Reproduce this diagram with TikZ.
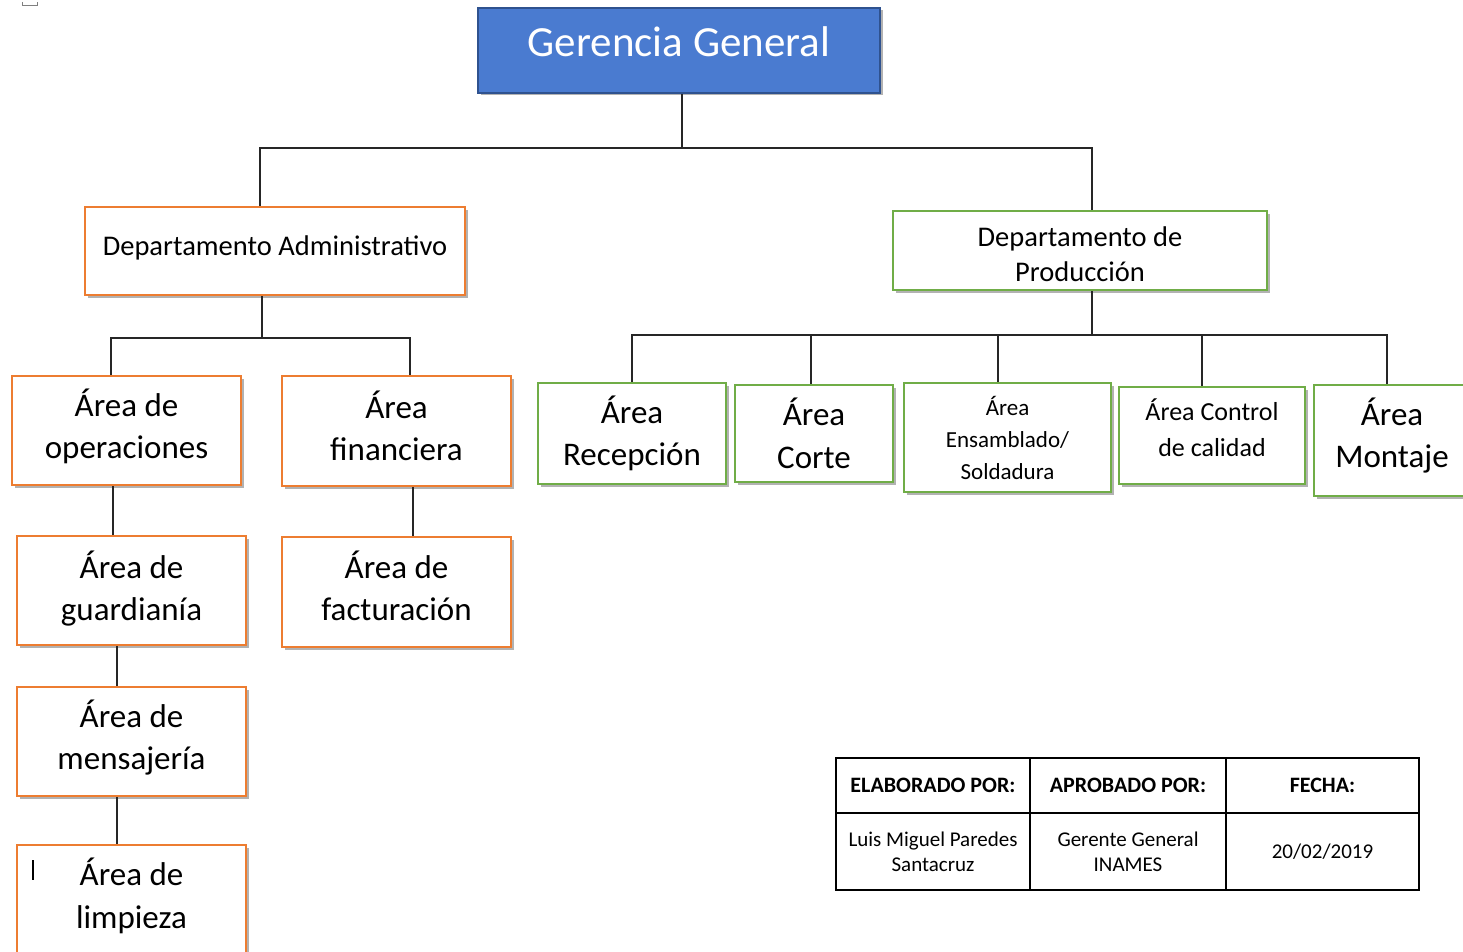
\documentclass[tikz,border=0pt]{standalone}
\usepackage{fontspec}
\setmainfont{Carlito}
\usetikzlibrary{shadows}
\definecolor{gblue}{HTML}{4A7BD0}
\definecolor{gblueb}{HTML}{2F528F}
\definecolor{org}{HTML}{ED7D31}
\definecolor{grn}{HTML}{70AD47}
\definecolor{lnk}{HTML}{262626}
\begin{document}
\begin{tikzpicture}[x=1pt,y=-1pt,
  boxbase/.style={draw, line width=2pt, fill=white, inner sep=0pt,
    drop shadow={shadow xshift=2.5pt, shadow yshift=-2.5pt, fill=black!50, opacity=0.6}},
  obox/.style={boxbase, draw=org},
  gbox/.style={boxbase, draw=grn},
  txt/.style={align=center, inner sep=0pt},
  bigtxt/.style={txt, font=\fontsize{33}{42.5}\selectfont},
  conn/.style={draw=lnk, line width=1.4pt},
  hdr/.style={font=\bfseries\fontsize{22}{26}\selectfont},
  cell/.style={font=\fontsize{21}{25}\selectfont, align=center},
]
\fill[white] (0,0) rectangle (1463,952);
\useasboundingbox (0,0) rectangle (1463,952);

% small mark top-left
\draw[gray, line width=1pt] (22,2) -- (22,6) -- (37,6) -- (37,2);

% top
\node[boxbase, draw=gblueb, fill=gblue, minimum width=402pt, minimum height=85pt] (gg) at (679,50.5) {};
\node[txt, text=white, font=\fontsize{43}{50}\selectfont] (ggt) at ([yshift=9pt]gg.center) {Gerencia General};

% departments
\node[obox, minimum width=380pt, minimum height=88pt] (da) at (275,251) {};
\node[txt, font=\fontsize{28.5}{35}\selectfont] (dat) at ([yshift=3pt]da.center) {Departamento Administrativo};
\node[gbox, minimum width=374pt, minimum height=79pt] (dp) at (1080,250.5) {};
\node[txt, font=\fontsize{28.5}{35}\selectfont] (dpt) at ([yshift=-4pt]dp.center) {Departamento de\\Producción};

% admin areas
\node[obox, minimum width=229pt, minimum height=109pt] (aop) at (126.5,430.5) {};
\node[bigtxt] (aopt) at ([yshift=4pt]aop.center) {Área de\\operaciones};
\node[obox, minimum width=229pt, minimum height=110pt] (afi) at (396.5,431) {};
\node[bigtxt] (afit) at ([yshift=5pt]afi.center) {Área\\financiera};
\node[obox, minimum width=229pt, minimum height=109pt] (agu) at (131.5,590.5) {};
\node[bigtxt] (agut) at ([yshift=2pt]agu.center) {Área de\\guardianía};
\node[obox, minimum width=229pt, minimum height=110pt] (afa) at (396.5,592) {};
\node[bigtxt] (afat) at ([yshift=6pt]afa.center) {Área de\\facturación};
\node[obox, minimum width=229pt, minimum height=109pt] (ame) at (131.5,741.5) {};
\node[bigtxt] (amet) at ([yshift=4pt]ame.center) {Área de\\mensajería};
\node[obox, minimum width=229pt, minimum height=110pt] (ali) at (131.5,900) {};
\node[bigtxt] (alit) at ([yshift=4pt]ali.center) {Área de\\limpieza};
\draw[line width=1.3pt] (33,860) -- (33,880);

% production areas
\node[gbox, minimum width=188pt, minimum height=101pt] (are) at (632,433.5) {};
\node[bigtxt] (aret) at ([yshift=0pt]are.center) {Área\\Recepción};
\node[gbox, minimum width=158pt, minimum height=97pt] (aco) at (814,433.5) {};
\node[bigtxt] (acot) at ([yshift=0pt]aco.center) {Área\\Corte};
\node[gbox, minimum width=207pt, minimum height=109pt] (aen) at (1007.5,437.5) {};
\node[txt, font=\fontsize{23}{32}\selectfont] (aent) at ([yshift=0pt]aen.center) {Área\\Ensamblado/\\Soldadura};
\node[gbox, minimum width=186pt, minimum height=97pt] (acc) at (1212,435.5) {};
\node[txt, font=\fontsize{26}{36}\selectfont] (acct) at ([yshift=8pt]acc.center) {Área Control\\de calidad};
\node[gbox, minimum width=156pt, minimum height=111pt] (amo) at (1392,440.5) {};
\node[bigtxt] (amot) at ([yshift=5pt]amo.center) {Área\\Montaje};

% connectors: top level
\coordinate (b1) at (682,148);
\draw[conn] ([xshift=3pt]gg.south) -- (b1);
\draw[conn] (b1) -| ([xshift=-15pt]da.north);
\draw[conn] (b1) -| ([xshift=12pt]dp.north);

% admin branch
\coordinate (b2) at (262,338);
\draw[conn] ([xshift=-13pt]da.south) -- (b2);
\draw[conn] (b2) -| ([xshift=-15.5pt]aop.north);
\draw[conn] (b2) -| ([xshift=13.5pt]afi.north);
\draw[conn] ([xshift=-13.5pt]aop.south) -- ([xshift=-13.5pt]aop.south |- agu.north);
\draw[conn] ([xshift=16.5pt]afi.south) -- ([xshift=16.5pt]afi.south |- afa.north);
\draw[conn] ([xshift=-14.5pt]agu.south) -- ([xshift=-14.5pt]agu.south |- ame.north);
\draw[conn] ([xshift=-14.5pt]ame.south) -- ([xshift=-14.5pt]ame.south |- ali.north);

% production branch
\coordinate (b3) at (1092,335);
\draw[conn] ([xshift=12pt]dp.south) -- (b3);
\draw[conn] (b3) -| (are.north);
\draw[conn] (b3) -| ([xshift=-3pt]aco.north);
\draw[conn] (b3) -| ([xshift=-9.5pt]aen.north);
\draw[conn] (b3) -| ([xshift=-10pt]acc.north);
\draw[conn] (b3) -| ([xshift=-5pt]amo.north);

% table
\draw[line width=1.6pt] (836,758) rectangle (1419,890);
\draw[line width=1.6pt] (1030,758) -- (1030,890);
\draw[line width=1.6pt] (1226,758) -- (1226,890);
\draw[line width=1.6pt] (836,813) -- (1419,813);
\node[hdr] (h1) at (933,785.5) {ELABORADO POR:};
\node[hdr] (h2) at (1128,785.5) {APROBADO POR:};
\node[hdr] (h3) at (1322.5,785.5) {FECHA:};
\node[cell] (c1) at (933,852) {Luis Miguel Paredes\\Santacruz};
\node[cell] (c2) at (1128,852) {Gerente General\\INAMES};
\node[cell] (c3) at (1322.5,852) {20/02/2019};
\end{tikzpicture}
\end{document}
